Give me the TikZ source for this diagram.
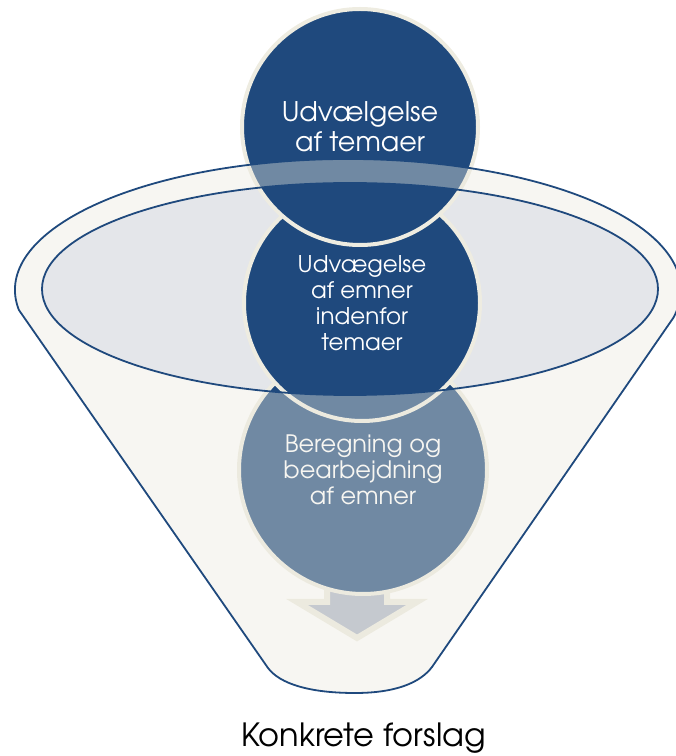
\documentclass[tikz,border=0pt]{standalone}
\usepackage{fontspec}
\setmainfont{TeX Gyre Adventor}
\definecolor{dblue}{HTML}{1F497D}
\definecolor{beige}{HTML}{EEECE1}
\definecolor{ringfill}{RGB}{235,233,222}
\definecolor{holefill}{HTML}{E4E6EA}
\definecolor{arrowfill}{RGB}{172,180,197}
\begin{document}
\begin{tikzpicture}[x=1pt,y=1pt,
  stage/.style={circle, fill=dblue, draw=beige, line width=4pt, inner sep=0pt,
    minimum size=236pt, text=white, align=center},
  edge/.style={draw=dblue, line width=1.8pt}]
\clip (0,0) rectangle (676,756);
% inner ellipse (opening of the funnel)
\fill[holefill] (350,467) ellipse [x radius=308, y radius=106];
% arrow
\filldraw[fill=arrowfill, draw=beige, line width=6pt, line join=miter]
  (327,180) -- (387,180) -- (387,154) -- (417,154) -- (357,118)
  -- (297,154) -- (327,154) -- cycle;
% circles
\node[stage, minimum size=248pt, font=\fontsize{24}{26}\selectfont] (s3) at (363,286)
  {Beregning og\\bearbejdning\\af emner};
\node[stage, font=\fontsize{23}{26}\selectfont] (s2) at (362,453)
  {Udvægelse\\af emner\\indenfor\\temaer};
\node[stage, font=\fontsize{27}{30}\selectfont] (s1) at (360,629)
  {Udvælgelse\\af temaer};
% funnel body, semi-transparent
\fill[ringfill, fill opacity=0.4, even odd rule]
  (18.9,446) arc[start angle=188.8, end angle=-12.3, x radius=333, y radius=131]
  -- (432,89) .. controls (420,73) and (395,63) .. (355,63)
  .. controls (310,63) and (280,72) .. (268,88) -- cycle
  (350,467) ellipse [x radius=308, y radius=106];
% funnel outlines
\draw[edge, line join=round]
  (18.9,446) arc[start angle=188.8, end angle=-12.3, x radius=333, y radius=131]
  -- (432,89) .. controls (420,73) and (395,63) .. (355,63)
  .. controls (310,63) and (280,72) .. (268,88) -- cycle;
\draw[edge] (350,467) ellipse [x radius=308, y radius=106];
% result label
\node[font=\fontsize{32}{34}\selectfont, text=black] (out) at (363.5,18) {Konkrete forslag};
\end{tikzpicture}
\end{document}
